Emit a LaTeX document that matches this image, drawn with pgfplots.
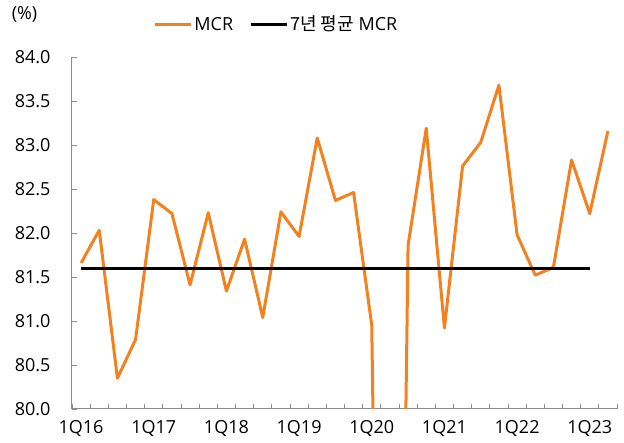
\documentclass[border=0pt]{standalone}
\usepackage{pgfplots}
\pgfplotsset{compat=1.18}
\usepackage{fontspec}
\setmainfont{Open Sans}
\newfontfamily\kr{Noto Sans CJK KR}
\usetikzlibrary{calc}
\definecolor{mcr}{RGB}{244,129,32}
\definecolor{axgray}{RGB}{140,140,140}

\begin{document}
\begin{tikzpicture}
\begin{axis}[
  name=ax, scale only axis, width=545pt, height=352pt,
  xmin=-0.5, xmax=29.5, ymin=80, ymax=84,
  axis lines*=left, axis line style={axgray, line width=1pt},
  tick align=inside, major tick length=5pt, tick style={axgray, line width=0.8pt},
  xtick={-0.5,0.5,...,29.5}, xticklabels={},
  extra x ticks={0,4,8,12,16,20,24,28},
  extra x tick labels={1Q16,1Q17,1Q18,1Q19,1Q20,1Q21,1Q22,1Q23},
  extra x tick style={major tick length=0pt, tick label style={yshift=-8pt}},
  ytick={80,80.5,...,84},
  yticklabel style={xshift=-18pt, /pgf/number format/.cd, fixed, fixed zerofill, precision=1, assume math mode=true},
  tick label style={font=\fontsize{18}{20}\selectfont, text=black},
  legend style={at={(0.375,1.093)}, anchor=center, draw=none, fill=none, legend columns=2,
    font=\fontsize{18}{20}\selectfont, /tikz/every even column/.append style={column sep=14pt}},
  legend image code/.code={\draw[#1] (0pt,0pt) -- (36pt,0pt);},
]
\addplot[mcr, line width=3pt, line join=round] coordinates {
  (0,81.66) (1,82.03) (2,80.35) (3,80.79) (4,82.38) (5,82.22) (6,81.41) (7,82.23)
  (8,81.34) (9,81.93) (10,81.04) (11,82.24) (12,81.96) (13,83.08) (14,82.37) (15,82.46)
  (16,80.95) (17,66.5) (18,81.86) (19,83.19) (20,80.92) (21,82.76) (22,83.03) (23,83.68)
  (24,81.98) (25,81.52) (26,81.61) (27,82.83) (28,82.22) (29,83.16)};
\addplot[black, line width=3pt] coordinates {(0,81.6) (28,81.6)};
\legend{MCR, {\kr 7년 평균} MCR}
\end{axis}
\node[font=\fontsize{18}{20}\selectfont] at ($(ax.north west)+(-47.5pt,43pt)$) {(\%)};
\path[use as bounding box] ($(ax.south west)+(-72pt,-34pt)$) rectangle ($(ax.north east)+(7pt,57pt)$);
\end{tikzpicture}
\end{document}
